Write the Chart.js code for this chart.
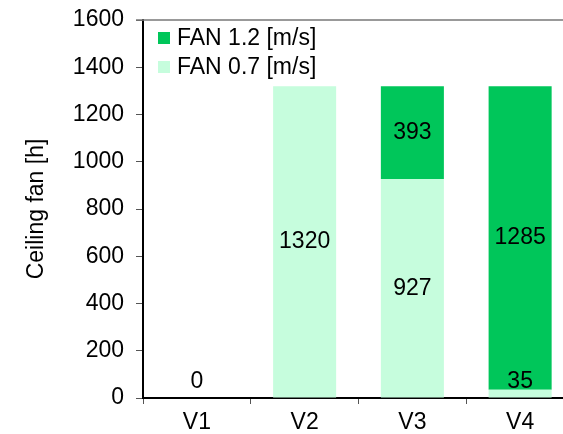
<!DOCTYPE html>
<html>
<head>
<meta charset="utf-8">
<script src="https://cdn.jsdelivr.net/npm/chart.js@4/dist/chart.umd.min.js"></script>
<style>
  html, body { margin: 0; padding: 0; background: #fff; overflow: hidden; }
  #wrap { width: 574px; height: 434px; position: relative; }
</style>
</head>
<body>
<div id="wrap"><canvas id="barChart"></canvas></div>
<script>
var categories = ['V1', 'V2', 'V3', 'V4'];
var fan07 = [0, 1320, 927, 35];
var fan12 = [0, 0, 393, 1285];
var seriesNames = ['FAN 0.7 [m/s]', 'FAN 1.2 [m/s]'];
var yTitle = 'Ceiling fan [h]';

var FONT = 'Arial, "Liberation Sans", sans-serif';
var FSIZE = 23;

// top border line of the plot
var topLine = {
    id: 'topLine',
    afterDraw: function(chart) {
        var ctx = chart.ctx, a = chart.chartArea;
        ctx.save();
        ctx.strokeStyle = '#777';
        ctx.lineWidth = 1.5;
        ctx.beginPath();
        ctx.moveTo(136, a.top);
        ctx.lineTo(chart.width, a.top);
        ctx.stroke();
        ctx.restore();
    }
};

// legend drawn inside the plot, top-left
var innerLegend = {
    id: 'innerLegend',
    afterDraw: function(chart) {
        var ctx = chart.ctx, a = chart.chartArea;
        var order = [1, 0];
        ctx.save();
        ctx.font = FSIZE + 'px ' + FONT;
        ctx.textBaseline = 'middle';
        order.forEach(function(di, row) {
            var ds = chart.data.datasets[di];
            var cy = a.top + 18 + row * 29;
            ctx.fillStyle = ds.backgroundColor;
            ctx.fillRect(a.left + 15, cy - 6, 12, 12);
            ctx.fillStyle = '#000';
            ctx.fillText(ds.label, a.left + 34, cy + 1);
        });
        ctx.restore();
    }
};

// value labels in the bars
var valueLabels = {
    id: 'valueLabels',
    afterDatasetsDraw: function(chart) {
        var ctx = chart.ctx;
        var y = chart.scales.y;
        var base = y.getPixelForValue(0);
        ctx.save();
        ctx.font = FSIZE + 'px ' + FONT;
        ctx.fillStyle = '#000';
        ctx.textAlign = 'center';
        ctx.textBaseline = 'middle';
        chart.data.datasets.forEach(function(ds, di) {
            var meta = chart.getDatasetMeta(di);
            meta.data.forEach(function(bar, i) {
                var v = ds.data[i];
                if (di > 0 && v === 0) return;
                var cy = Math.min((bar.y + bar.base) / 2, base - 16);
                ctx.fillText(String(v), bar.x, cy);
            });
        });
        ctx.restore();
    }
};

var ctx = document.getElementById('barChart').getContext('2d');
var myChart = new Chart(ctx, {
    type: 'bar',
    data: {
        labels: categories,
        datasets: [
            { label: seriesNames[0], data: fan07, backgroundColor: '#C6FDDD' },
            { label: seriesNames[1], data: fan12, backgroundColor: '#00C65A' }
        ]
    },
    options: {
        responsive: true,
        maintainAspectRatio: false,
        animation: false,
        layout: { padding: { top: 20, right: 0, bottom: 0, left: 0 } },
        datasets: {
            bar: { barPercentage: 0.585, categoryPercentage: 1, borderWidth: 0 }
        },
        plugins: {
            legend: { display: false },
            tooltip: { enabled: false }
        },
        scales: {
            x: {
                stacked: true,
                grid: { drawOnChartArea: false, tickLength: 6, color: '#555', offset: true },
                border: { color: '#000', width: 2 },
                ticks: { color: '#000', font: { family: FONT, size: FSIZE }, padding: 5 },
                afterFit: function(s) {
                    s.height = 36;
                    s.paddingLeft = 0;
                    s.paddingRight = 0;
                }
            },
            y: {
                stacked: true,
                min: 0,
                max: 1600,
                grid: { drawOnChartArea: false, tickLength: 7, color: '#555' },
                border: { color: '#000', width: 2 },
                ticks: {
                    stepSize: 200,
                    color: '#000',
                    font: { family: FONT, size: FSIZE },
                    padding: 12,
                    callback: function(v) { return String(v); }
                },
                title: {
                    display: true,
                    text: yTitle,
                    color: '#000',
                    font: { family: FONT, size: FSIZE },
                    padding: { top: 23, bottom: 0 }
                },
                afterFit: function(s) {
                    s.width = 143;
                    s.paddingTop = 0;
                    s.paddingBottom = 0;
                }
            }
        }
    },
    plugins: [topLine, innerLegend, valueLabels]
});
</script>
</body>
</html>
